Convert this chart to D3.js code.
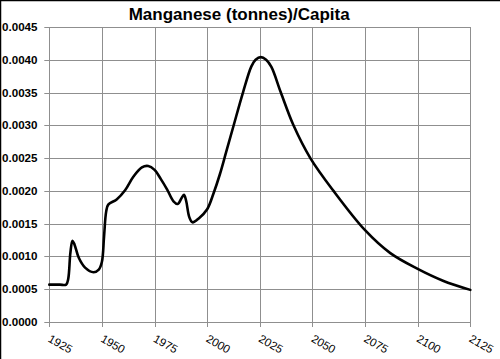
<!DOCTYPE html>
<html>
<head>
<meta charset="utf-8">
<script src="https://cdn.jsdelivr.net/npm/d3@7/dist/d3.min.js"></script>
<style>
  html, body { margin: 0; padding: 0; background: #fff; }
  svg { display: block; }
</style>
</head>
<body>
<script>
const title = "Manganese (tonnes)/Capita";
const xTicks = [1925, 1950, 1975, 2000, 2025, 2050, 2075, 2100, 2125];
const yTicks = [0, 0.0005, 0.001, 0.0015, 0.002, 0.0025, 0.003, 0.0035, 0.004, 0.0045];
const years = [1925, 1930, 1933, 1934, 1935, 1936, 1937, 1939, 1942, 1946, 1948.5, 1950, 1951, 1952, 1953,
  1957, 1961, 1965, 1969, 1972, 1975, 1978, 1981, 1984, 1986, 1988, 1989, 1990, 1991.5, 1993, 1996, 2000,
  2003, 2006, 2009, 2012.5, 2017, 2021, 2023, 2025.5, 2028, 2030.5, 2035, 2041, 2049, 2060, 2075, 2087, 2100, 2112, 2125];
const values = [0.00057, 0.00057, 0.00057, 0.00066, 0.00105, 0.00124, 0.00118, 0.00098, 0.00083, 0.00076, 0.00080, 0.00092, 0.00130, 0.00168, 0.00179,
  0.00187, 0.00201, 0.00222, 0.00236, 0.00238, 0.00232, 0.00218, 0.00202, 0.00184, 0.00180, 0.00190, 0.00194, 0.00185, 0.00160, 0.00152, 0.00158, 0.00172,
  0.00196, 0.00225, 0.00259, 0.00299, 0.00350, 0.00390, 0.00400, 0.00404, 0.00400, 0.00389, 0.00350, 0.00300, 0.00250, 0.00200, 0.00140, 0.00105, 0.00081, 0.00063, 0.00049];

const W = 500, H = 359;
const m = { left: 49.3, right: 470.3, top: 27, bottom: 322 };

const svg = d3.select("body").append("svg").attr("width", W).attr("height", H);
svg.append("rect").attr("width", W).attr("height", H).attr("fill", "#fff");

const x = d3.scaleLinear().domain([1925, 2125]).range([m.left, m.right]);
const y = d3.scaleLinear().domain([0, 0.0045]).range([m.bottom, m.top]);

// gridlines
const gridColor = "#8f8f8f";
svg.append("g").selectAll("line").data(yTicks).join("line")
  .attr("x1", m.left - 5).attr("x2", m.right)
  .attr("y1", d => Math.round(y(d)) + 0.5).attr("y2", d => Math.round(y(d)) + 0.5)
  .attr("stroke", gridColor).attr("stroke-width", 1);
svg.append("g").selectAll("line").data(xTicks).join("line")
  .attr("x1", d => Math.round(x(d)) + 0.5).attr("x2", d => Math.round(x(d)) + 0.5)
  .attr("y1", m.top).attr("y2", m.bottom + 5)
  .attr("stroke", gridColor).attr("stroke-width", 1);

// y labels
svg.append("g").selectAll("text").data(yTicks).join("text")
  .attr("x", 2).attr("y", d => y(d) + 4)
  .attr("font-family", "Liberation Sans, Arial, sans-serif")
  .attr("font-weight", "bold").attr("font-size", 11)
  .attr("textLength", 35.5).attr("lengthAdjust", "spacingAndGlyphs")
  .attr("fill", "#000")
  .text(d => d3.format(".4f")(d));

// x labels
svg.append("g").selectAll("text").data(xTicks).join("text")
  .attr("transform", d => `translate(${x(d) - 2},${341}) rotate(30)`)
  .attr("font-family", "Liberation Sans, Arial, sans-serif")
  .attr("font-size", 11.5).attr("fill", "#000")
  .text(d => d);

// line
const line = d3.line().x((d, i) => x(years[i])).y(d => y(d)).curve(d3.curveCatmullRom.alpha(0.5));
svg.append("path").datum(values).attr("d", line)
  .attr("fill", "none").attr("stroke", "#000").attr("stroke-width", 2.6)
  .attr("stroke-linejoin", "round").attr("stroke-linecap", "round");

// title
svg.append("text").attr("x", 239.2).attr("y", 20)
  .attr("text-anchor", "middle")
  .attr("font-family", "Liberation Sans, Arial, sans-serif")
  .attr("font-weight", "bold").attr("font-size", 17)
  .attr("fill", "#000")
  .text(title);

// outer border (top and left)
svg.append("line").attr("x1", 0).attr("x2", W).attr("y1", 0.5).attr("y2", 0.5).attr("stroke", "#000").attr("stroke-width", 1.5);
svg.append("line").attr("x1", 0.5).attr("x2", 0.5).attr("y1", 0).attr("y2", H).attr("stroke", "#000").attr("stroke-width", 1.5);
</script>
</body>
</html>
